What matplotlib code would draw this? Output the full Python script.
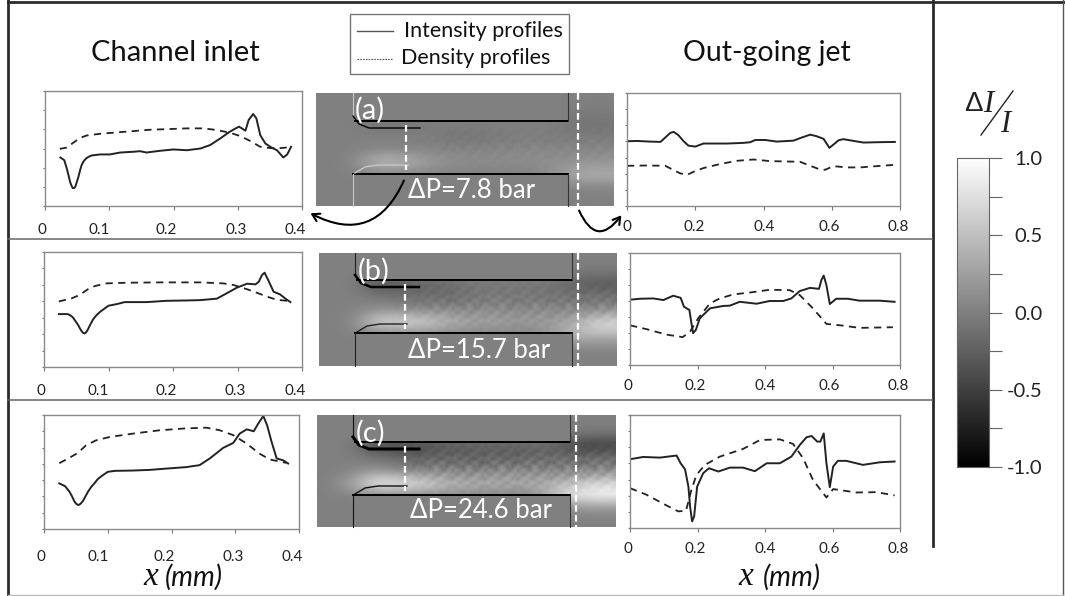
#!/usr/bin/env python3
import numpy as np
import matplotlib
matplotlib.use("Agg")
import matplotlib.pyplot as plt
from matplotlib.patches import FancyArrowPatch, Rectangle
from matplotlib.transforms import ScaledTranslation

plt.rcParams["font.family"] = ["Lato", "DejaVu Sans"]

W, H = 1065, 596

#######################################################
######################## DATA #########################
#######################################################

# (a) channel inlet
a_in_x = [.024, .030, .034, .037, .039, .041, .043, .045, .047, .049, .052, .0545, .057, .060, .064, .068, .073, .086, .101, .117, .138, .148, .158, .179, .200, .221, .242, .257, .273, .286, .294, .302, .312, .317, .324, .329, .335, .343, .353, .361, .371, .377, .383]
a_in_int = [2.53, 2.39, 1.95, 1.55, 1.26, 1.08, .94, .93, .99, 1.2, 1.52, 1.85, 2.13, 2.33, 2.48, 2.57, 2.64, 2.69, 2.69, 2.79, 2.83, 2.86, 2.79, 2.88, 2.95, 2.91, 3.0, 3.18, 3.53, 3.84, 4.0, 4.14, 3.93, 4.49, 4.80, 4.57, 3.70, 3.26, 3.04, 2.91, 2.53, 2.69, 3.09]
a_in_dx = [.023, .034, .044, .055, .065, .086, .112, .138, .164, .190, .221, .247, .268, .288, .304, .319, .335, .351, .366, .382]
a_in_den = [2.98, 3.05, 3.30, 3.56, 3.68, 3.77, 3.84, 3.91, 3.98, 4.01, 4.05, 4.05, 3.96, 3.82, 3.65, 3.40, 3.09, 3.02, 3.02, 3.07]

# (a) out-going jet
a_out_x = [0, .029, .068, .098, .112, .127, .137, .151, .166, .180, .200, .224, .254, .293, .341, .361, .376, .405, .439, .488, .512, .537, .556, .576, .585, .593, .603, .620, .634, .659, .693, .732, .785]
a_out_int = [4.01, 4.03, 3.99, 3.97, 4.24, 4.53, 4.59, 4.38, 4.01, 3.74, 3.68, 3.87, 3.87, 3.87, 3.91, 3.95, 4.09, 4.09, 3.99, 4.05, 4.24, 4.42, 4.32, 4.16, 3.87, 3.60, 3.77, 4.07, 4.14, 4.05, 3.93, 3.95, 3.97]
a_out_dx = [0, .059, .112, .137, .156, .176, .195, .224, .273, .322, .371, .420, .507, .537, .561, .580, .605, .644, .683, .732, .785]
a_out_den = [2.49, 2.51, 2.49, 2.22, 2.02, 1.93, 2.12, 2.35, 2.60, 2.80, 2.88, 2.78, 2.74, 2.49, 2.30, 2.24, 2.47, 2.39, 2.39, 2.47, 2.55]

# (b) channel inlet
b_in_x = [.023, .037, .041, .045, .049, .053, .056, .058, .0605, .063, .0655, .068, .072, .076, .081, .087, .100, .113, .125, .138, .159, .190, .221, .242, .268, .283, .299, .315, .328, .333, .338, .342, .347, .356, .366, .376, .382]
b_in_int = [3.22, 3.22, 3.14, 3.01, 2.78, 2.55, 2.33, 2.20, 2.08, 2.04, 2.12, 2.28, 2.60, 2.89, 3.14, 3.36, 3.73, 3.83, 3.95, 3.95, 3.95, 4.03, 4.05, 4.07, 4.16, 4.48, 4.83, 5.07, 5.03, 5.19, 5.60, 5.74, 5.34, 4.58, 4.42, 4.11, 3.95]
b_in_dx = [.023, .043, .055, .068, .079, .097, .128, .180, .242, .278, .294, .315, .330, .346, .361, .382]
b_in_den = [3.99, 4.18, 4.38, 4.73, 4.93, 5.09, 5.13, 5.15, 5.15, 5.09, 4.99, 4.73, 4.52, 4.28, 4.09, 4.01]

# (b) out-going jet
b_out_x = [0, .030, .069, .099, .128, .150, .160, .176, .182, .187, .195, .207, .237, .276, .296, .325, .375, .414, .454, .478, .503, .533, .560, .567, .574, .582, .592, .611, .646, .680, .740, .784]
b_out_int = [4.08, 4.14, 4.16, 4.06, 4.33, 4.20, 3.64, 3.44, 2.61, 1.99, 2.19, 2.92, 3.54, 3.69, 3.71, 3.95, 3.83, 4.0, 4.0, 4.16, 4.62, 4.82, 4.76, 5.30, 5.59, 4.99, 3.81, 4.14, 4.14, 4.02, 4.02, 3.95]
b_out_dx = [0, .049, .108, .156, .178, .202, .237, .266, .306, .355, .414, .473, .503, .542, .582, .631, .680, .779]
b_out_den = [2.48, 2.24, 1.90, 1.74, 2.09, 2.92, 3.85, 4.16, 4.41, 4.53, 4.70, 4.68, 4.37, 3.54, 2.57, 2.46, 2.32, 2.36]

# (c) channel inlet
c_in_x = [.024, .033, .040, .044, .048, .051, .054, .057, .061, .065, .069, .074, .079, .084, .090, .100, .111, .139, .166, .192, .223, .244, .260, .281, .297, .307, .318, .329, .336, .344, .350, .357, .365, .375, .383]
c_in_int = [2.80, 2.63, 2.29, 2.0, 1.67, 1.53, 1.47, 1.54, 1.71, 2.0, 2.29, 2.58, 2.80, 3.05, 3.24, 3.51, 3.57, 3.59, 3.63, 3.71, 3.80, 3.92, 4.33, 4.98, 5.29, 5.86, 6.12, 6.0, 6.47, 6.94, 6.37, 5.35, 4.33, 4.22, 4.02]
c_in_dx = [.024, .038, .053, .066, .082, .103, .140, .181, .223, .255, .276, .297, .318, .338, .354, .380]
c_in_den = [4.04, 4.33, 4.67, 5.14, 5.45, 5.65, 5.86, 6.06, 6.18, 6.22, 6.06, 5.76, 5.24, 4.63, 4.27, 4.06]

# (c) out-going jet
c_out_x = [0, .039, .089, .138, .150, .163, .173, .178, .184, .190, .199, .217, .234, .262, .296, .335, .370, .405, .444, .478, .503, .523, .538, .555, .564, .574, .582, .592, .602, .616, .641, .690, .740, .784]
c_out_int = [4.26, 4.40, 4.36, 4.49, 4.01, 3.64, 2.57, 1.34, .41, .72, 2.57, 3.40, 3.70, 3.50, 3.74, 3.74, 3.52, 4.01, 4.01, 4.42, 5.14, 5.62, 5.70, 5.35, 5.35, 5.86, 4.01, 2.53, 3.81, 4.16, 4.16, 3.91, 4.07, 4.12]
c_out_dx = [0, .049, .108, .143, .166, .182, .197, .222, .266, .335, .385, .444, .483, .513, .542, .582, .602, .671, .730, .784]
c_out_den = [2.47, 2.06, 1.40, 1.03, 1.07, 2.37, 3.29, 3.91, 4.42, 4.90, 5.45, 5.49, 5.21, 4.32, 2.98, 1.89, 2.41, 2.20, 2.22, 2.02]

in_ticks = [0, 0.1, 0.2, 0.3, 0.4]
in_labels = ["0", "0.1", "0.2", "0.3", "0.4"]
out_ticks = [0, 0.2, 0.4, 0.6, 0.8]
out_labels = ["0", "0.2", "0.4", "0.6", "0.8"]
cbar_ticks = [1.0, 0.5, 0.0, -0.5, -1.0]
cbar_labels = ["1.0", "0.5", "0.0", "-0.5", "-1.0"]
cbar_minor = [0.75, 0.25, -0.25, -0.75]

# coarse grey levels of the three microscope images (rows top to bottom)
grey_a = [
    [128, 128, 128, 128, 128, 128, 128, 128, 128, 128, 128, 130, 128],
    [128, 128, 128, 128, 128, 128, 128, 128, 128, 128, 128, 122, 124],
    [128, 128, 118, 116, 120, 126, 128, 128, 128, 128, 126, 114, 116],
    [128, 128, 128, 128, 128, 120, 116, 118, 124, 124, 124, 122, 124],
    [128, 128, 132, 132, 132, 132, 132, 134, 134, 136, 136, 134, 136],
    [128, 130, 185, 190, 170, 150, 142, 142, 142, 144, 144, 148, 150],
    [128, 128, 128, 128, 128, 128, 128, 128, 128, 128, 150, 178, 175],
    [128, 128, 128, 128, 128, 128, 128, 128, 128, 128, 128, 132, 134],
    [128, 128, 128, 128, 128, 128, 128, 128, 128, 128, 128, 128, 128],
]
grey_b = [
    [128, 128, 128, 128, 128, 128, 128, 128, 128, 128, 128, 128, 128],
    [128, 128, 128, 128, 128, 128, 128, 128, 128, 128, 128, 120, 122],
    [128, 128, 80, 85, 100, 105, 118, 120, 120, 120, 112, 90, 85],
    [128, 128, 122, 115, 108, 100, 110, 118, 116, 114, 112, 110, 112],
    [128, 130, 140, 140, 132, 142, 135, 145, 135, 142, 138, 135, 140],
    [128, 135, 215, 225, 225, 195, 170, 170, 160, 162, 160, 200, 240],
    [128, 128, 128, 128, 128, 128, 128, 128, 128, 128, 170, 185, 180],
    [128, 128, 128, 128, 128, 128, 128, 128, 128, 128, 128, 135, 135],
    [128, 128, 128, 128, 128, 128, 128, 128, 128, 128, 128, 128, 128],
]
grey_c = [
    [128, 128, 128, 128, 128, 128, 128, 128, 128, 128, 128, 128, 128],
    [128, 128, 128, 128, 128, 128, 128, 128, 128, 128, 125, 118, 118],
    [128, 128, 70, 65, 70, 85, 90, 95, 95, 100, 95, 55, 60],
    [128, 128, 118, 112, 90, 95, 85, 90, 85, 95, 100, 100, 105],
    [128, 130, 150, 135, 130, 140, 130, 140, 145, 140, 138, 135, 140],
    [128, 165, 245, 245, 240, 205, 190, 185, 180, 185, 190, 225, 245],
    [128, 128, 128, 128, 128, 128, 128, 128, 128, 128, 215, 235, 240],
    [128, 128, 128, 128, 128, 128, 128, 128, 128, 128, 128, 145, 145],
    [128, 128, 128, 128, 128, 128, 128, 128, 128, 128, 128, 128, 128],
]
# streaky grain of the flow, one repeated patch
grain = [
    [90, 150, 170, 120, 80, 130, 190, 160, 100, 70, 140, 180],
    [170, 110, 70, 140, 200, 150, 90, 60, 130, 190, 170, 110],
    [60, 130, 190, 170, 110, 70, 120, 180, 200, 140, 90, 100],
    [150, 200, 120, 80, 150, 190, 160, 100, 70, 110, 180, 160],
    [100, 70, 140, 190, 170, 110, 60, 130, 190, 170, 100, 60],
    [180, 140, 90, 100, 70, 150, 200, 150, 90, 130, 60, 140],
]

#######################################################
##################### FUNCIONES #######################
#######################################################

fig = plt.figure(figsize=(W / 100, H / 100), dpi=100)
page = fig.add_axes([0, 0, 1, 1])
page.axis("off")


def px_axes(x0, y0, x1, y1):
    """Axes given by pixel corners, y measured from the top."""
    return fig.add_axes([x0 / W, 1 - y1 / H, (x1 - x0) / W, (y1 - y0) / H])


def profile(box, xmax, ticks, labels, n, x, y, dx, dy, pad, shift):
    ax = px_axes(*box)
    ax.plot(x, y, color="#222222", lw=1.4)
    ax.plot(dx, dy, color="#222222", lw=1.3, ls=(0, (4, 3)))
    ax.set_xlim(0, xmax)
    ax.set_ylim(0, n)
    ax.set_xticks(ticks)
    ax.set_xticklabels(labels, fontsize=11, color="#222222")
    ax.set_yticks(range(n + 1))
    ax.set_yticklabels([])
    ax.tick_params(axis="x", direction="out", length=3, color="#777777", pad=pad)
    ax.tick_params(axis="y", direction="out", length=1.5, color="#777777")
    for s in ax.spines.values():
        s.set_color("#8a8a8a")
        s.set_linewidth(1.0)
    # the printed labels do not sit exactly under their ticks
    for lab, d in zip(ax.get_xticklabels(), shift):
        lab.set_transform(lab.get_transform() + ScaledTranslation(d / 100, 0, fig.dpi_scale_trans))
    return ax


def micro(box, grey, wall_x, top, bot, dash1, dash2, tag, tag_y, dp, dp_x, streak_c, streak_w, grain_alpha):
    x0, y0, x1, y1 = box
    page.imshow(grey, cmap="gray", vmin=0, vmax=255, extent=(x0, x1, y1, y0),
                aspect="auto", interpolation="bicubic", zorder=1)
    # grain of the flow inside the channel and in the jet, faded at its edges
    tiled = np.tile(grain, (2, 7))
    window = np.outer(np.hanning(tiled.shape[0] + 2)[1:-1] ** 0.5,
                      np.minimum(np.linspace(0, 4, tiled.shape[1]), 1))
    page.imshow(tiled, cmap="gray", vmin=0, vmax=255, alpha=grain_alpha * window,
                extent=(dash1 - 20, x1, bot - 2, top + 2), aspect="auto",
                interpolation="bilinear", zorder=1.5)
    # walls of the channel
    for yy0, yy1 in ((y0, top), (bot, y1)):
        page.add_patch(Rectangle((wall_x[0], yy0), wall_x[1] - wall_x[0], yy1 - yy0,
                                 fc="#808080", ec="none", zorder=2))
    page.plot([wall_x[0] + 2, wall_x[1]], [top, top], color="k", lw=1.4, zorder=3)
    page.plot([wall_x[0], wall_x[1]], [bot, bot], color="k", lw=1.4, zorder=3)
    page.plot([wall_x[1], wall_x[1]], [y0, top], color="#333333", lw=0.8, zorder=3)
    page.plot([wall_x[1], wall_x[1]], [bot, y1], color="#333333", lw=0.8, zorder=3)
    page.plot([wall_x[0], wall_x[0]], [y0, top - 5], color=streak_c, lw=0.8, zorder=3)
    page.plot([wall_x[0], wall_x[0]], [bot, y1], color=streak_c, lw=0.8, zorder=3)
    # separated layer at the inlet
    page.plot([wall_x[0], wall_x[0] + 6, wall_x[0] + 16, dash1 + 14],
              [top - 5, top + 3, top + 7, top + 7], color="k", lw=streak_w, zorder=3)
    page.plot([wall_x[0] + 2, wall_x[0] + 12, wall_x[0] + 25, dash1 + 2],
              [bot - 1, bot - 7, bot - 9, bot - 9], color=streak_c, lw=1.0, zorder=3)
    # sampling positions
    page.plot([dash1, dash1], [top + 4, bot - 4], color="w", lw=1.6, ls=(0, (3, 1.5)), zorder=4)
    page.plot([dash2, dash2], [y0, y1], color="w", lw=1.6, ls=(0, (3, 1.5)), zorder=4)
    page.text(x0 + 39, tag_y, tag, color="w", fontsize=21, va="center", zorder=5)
    page.text(dp_x, y1 - 16, dp, color="w", fontsize=18.5, va="center", zorder=5)


#######################################################
####################### FIGURA ########################
#######################################################

micro((316, 93, 614, 206), grey_a, (353, 568), 121, 174, 406, 578, "(a)", 110,
      "ΔP=7.8 bar", 408, "#c8c8c8", 1.0, 0.06)
micro((319, 253, 617, 366), grey_b, (355, 572), 280, 333, 405, 578, "(b)", 271,
      "ΔP=15.7 bar", 408, "#222222", 1.8, 0.18)
micro((317, 415, 616, 527), grey_c, (353, 570), 442, 495, 405, 576, "(c)", 433,
      "ΔP=24.6 bar", 410, "#111111", 2.2, 0.25)

# frame of the figure
frame = "#2b2b2b"
page.plot([8, 1064], [2, 2], color=frame, lw=2)
page.plot([8, 8], [0, 596], color=frame, lw=2)
page.plot([932.5, 932.5], [0, 546], color=frame, lw=2)
page.plot([1063, 1063], [0, 596], color="#555555", lw=1)
page.plot([8, 1063], [595, 595], color="#bbbbbb", lw=1)
page.plot([8, 932], [239, 239], color="#666666", lw=1.1)
page.plot([8, 932], [400, 400], color="#666666", lw=1.1)

# legend box
page.add_patch(Rectangle((350, 14), 219, 60, fc="w", ec="#777777", lw=1.0, zorder=2))
page.plot([357, 393], [31, 31], color="#555555", lw=1.0, zorder=3)
page.plot([357, 392], [59, 59], color="#555555", lw=0.8, ls=(0, (1.5, 1)), zorder=3)
page.text(404, 31, "Intensity profiles", fontsize=15.5, va="center", color="#111111", zorder=3)
page.text(401, 58, "Density profiles", fontsize=15.5, va="center", color="#111111", zorder=3)

# titles
page.text(175, 53, "Channel inlet", fontsize=21, ha="center", va="center", color="#111111")
page.text(767, 53, "Out-going jet", fontsize=20.5, ha="center", va="center", color="#111111")
for x_left, x_right in ((143, 165), (738, 763)):
    page.text(x_left, 577, "x", fontsize=24, style="italic", family="Liberation Serif",
              va="center", color="#111111")
    page.text(x_right, 577, "(mm)", fontsize=20, style="italic", va="center", color="#111111")

# curved arrows from the images to the profiles
page.add_patch(FancyArrowPatch((405, 178), (308, 212), connectionstyle="arc3,rad=-0.55",
                               arrowstyle="->,head_length=5,head_width=3", color="k", lw=1.5, zorder=6))
page.add_patch(FancyArrowPatch((578, 208), (623, 213), connectionstyle="arc3,rad=0.9",
                               arrowstyle="->,head_length=5,head_width=3", color="k", lw=1.5, zorder=6))

# delta I / I
page.text(964, 104, "Δ", fontsize=20, family="Liberation Sans", va="center", color="#222222")
page.text(983, 104, "I", fontsize=22, style="italic", family="Liberation Serif", va="center", color="#222222")
page.plot([981, 1013], [135, 91], color="#222222", lw=1.0)
page.text(1000, 125, "I", fontsize=22, style="italic", family="Liberation Serif", va="center", color="#222222")

page.set_xlim(0, W)
page.set_ylim(H, 0)

in_shift = [-3, -10, -7, -2, -7]
out_shift = [-2, -2, 0, -3, -2]
profile((45, 91, 302, 206), 0.4, in_ticks, in_labels, 6, a_in_x, a_in_int, a_in_dx, a_in_den, 9, in_shift)
profile((627, 93, 900, 206), 0.8, out_ticks, out_labels, 7, a_out_x, a_out_int, a_out_dx, a_out_den, 7, [0, -1, 1, -3, -2])
profile((44, 252, 302, 367), 0.4, in_ticks, in_labels, 7, b_in_x, b_in_int, b_in_dx, b_in_den, 9.5, in_shift)
profile((630, 253, 900, 365), 0.8, out_ticks, out_labels, 7, b_out_x, b_out_int, b_out_dx, b_out_den, 7, out_shift)
profile((44, 415, 299, 529), 0.4, in_ticks, in_labels, 7, c_in_x, c_in_int, c_in_dx, c_in_den, 12, in_shift)
profile((630, 415, 900, 528), 0.8, out_ticks, out_labels, 7, c_out_x, c_out_int, c_out_dx, c_out_den, 7, out_shift)

# colour bar
cax = px_axes(957, 158, 989, 467)
gradient = np.linspace(1, -1, 256).reshape(-1, 1)
cax.imshow(gradient, cmap="gray", vmin=-1, vmax=1, extent=(0, 1, -1, 1), aspect="auto")
cax.set_xticks([])
cax.yaxis.tick_right()
cax.set_yticks(cbar_ticks)
cax.set_yticklabels(cbar_labels, fontsize=14.5, color="#222222", ha="right")
cax.set_yticks(cbar_minor, minor=True)
cax.tick_params(axis="y", which="both", length=9.4, width=0.8, color="#666666", pad=29)
for s in cax.spines.values():
    s.set_color("#666666")
    s.set_linewidth(0.8)

fig.savefig("out.png", dpi=100)
